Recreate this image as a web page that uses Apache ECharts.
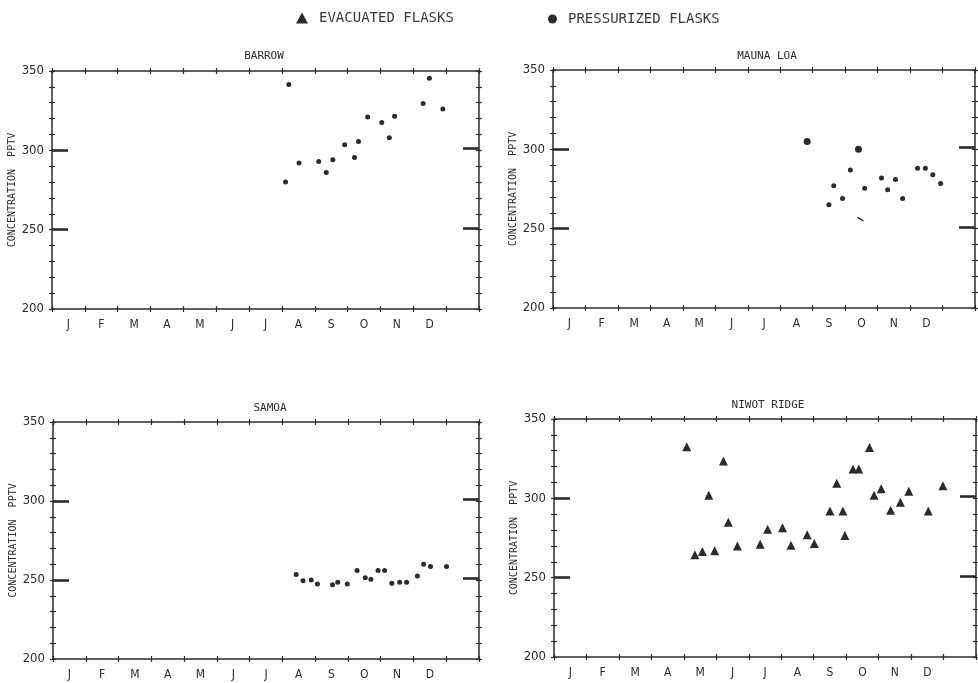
<!DOCTYPE html>
<html>
<head>
<meta charset="utf-8">
<script src="https://cdn.jsdelivr.net/npm/echarts@6/dist/echarts.min.js"></script>
<style>
html, body { margin: 0; background: #fff; }
#view { width: 978px; height: 683px; }
</style>
</head>
<body>
<div id="view"></div>
<script>
var myChart = echarts.init(document.getElementById('view'));

// month axis: 13 slots, the last one is left blank as in the original plot
var monthLabels = ['J', 'F', 'M', 'A', 'M', 'J', 'J', 'A', 'S', 'O', 'N', 'D', ''];
var yLabels = [200, 250, 300, 350];

// x = fraction of the year in months (0 = 1 Jan), y = pptv
var barrowMonth = [7.11, 7.21, 7.52, 8.12, 8.35, 8.55, 8.91, 9.21, 9.33, 9.61, 10.04, 10.27, 10.43, 11.30, 11.49, 11.90];
var barrowPptv  = [280, 341.5, 292, 293, 286, 294, 303.5, 295.5, 305.5, 321, 317.5, 308, 321.5, 329.5, 345.5, 326];

var maunaMonth = [8.50, 8.65, 8.92, 9.16, 9.60, 10.12, 10.31, 10.55, 10.77, 11.23, 11.47, 11.70, 11.94];
var maunaPptv  = [265, 277, 269, 287, 275.5, 282, 274.5, 281, 269, 288, 288, 284, 278.5];
// two larger dots
var maunaBigMonth = [7.83, 9.41];
var maunaBigPptv  = [305, 300];
// small stray dash on the plot
var maunaDashMonth = [9.47];
var maunaDashPptv  = [256];

var samoaMonth = [7.42, 7.63, 7.88, 8.07, 8.53, 8.69, 8.98, 9.28, 9.53, 9.70, 9.92, 10.12, 10.34, 10.58, 10.79, 11.12, 11.31, 11.52, 12.01];
var samoaPptv  = [253.5, 249.5, 250, 247.5, 247, 248.5, 247.5, 256, 251.5, 250.5, 256, 256, 248, 248.5, 248.5, 252.5, 260, 258.5, 258.5];

var niwotMonth = [4.09, 4.34, 4.57, 4.77, 4.95, 5.22, 5.37, 5.65, 6.35, 6.58, 7.04, 7.30, 7.80, 8.02, 8.50, 8.71, 8.90, 8.96, 9.21, 9.39, 9.72, 9.86, 10.08, 10.37, 10.67, 10.93, 11.53, 11.98];
var niwotPptv  = [332.5, 264.5, 266.5, 302, 267, 323.5, 285, 270, 271, 280.5, 281.5, 270.5, 277, 271.5, 292, 309.5, 292, 276.5, 318.5, 318.5, 332, 302, 306, 292.5, 297.5, 304.5, 292, 308];

function pairs(xs, ys) {
    var out = [];
    for (var i = 0; i < xs.length; i++) out.push([xs[i], ys[i]]);
    return out;
}

var ink = '#2b2b2b';
var narrow = '"Liberation Sans Narrow", "DejaVu Sans Condensed", "Liberation Sans", sans-serif';
var mono = '"DejaVu Sans Mono", "Liberation Mono", monospace';

var panels = [
    { title: 'BARROW', box: [52, 71, 427, 238], titleX: 259, titleY: 46 },
    { title: 'MAUNA LOA', box: [553, 70, 422, 238], titleX: 762, titleY: 46 },
    { title: 'SAMOA', box: [53, 422, 426, 237], titleX: 265, titleY: 398 },
    { title: 'NIWOT RIDGE', box: [554, 419, 422, 238], titleX: 763, titleY: 395 }
];

var grids = [], xAxes = [], yAxes = [], titles = [];
var lineStyle = { color: ink, width: 1.5 };
var tickStyle = { color: ink, width: 1.2 };

panels.forEach(function (p, i) {
    grids.push({ left: p.box[0], top: p.box[1], width: p.box[2], height: p.box[3] });
    titles.push({
        text: p.title, left: p.titleX, top: p.titleY, textAlign: 'center',
        textStyle: { fontFamily: mono, fontSize: 11, fontWeight: 'normal', color: ink }
    });

    // 0: data axis, bottom, inner ticks
    xAxes.push({
        gridIndex: i, type: 'value', min: 0, max: 13, interval: 1, position: 'bottom',
        axisLine: { show: true, lineStyle: lineStyle },
        axisTick: { show: true, inside: true, length: 3, lineStyle: tickStyle },
        axisLabel: { show: false }, splitLine: { show: false }
    });
    // 1: month labels, bottom, outer ticks
    xAxes.push({
        gridIndex: i, type: 'category', data: monthLabels, boundaryGap: true, position: 'bottom',
        axisLine: { show: false },
        axisTick: { show: true, inside: false, length: 3, lineStyle: tickStyle },
        axisLabel: { interval: 0, margin: 10, fontFamily: narrow, fontSize: 12, color: ink },
        splitLine: { show: false }
    });
    // 2,3: top frame, ticks both ways
    xAxes.push({
        gridIndex: i, type: 'value', min: 0, max: 13, interval: 1, position: 'top',
        axisLine: { show: true, lineStyle: lineStyle },
        axisTick: { show: true, inside: true, length: 3, lineStyle: tickStyle },
        axisLabel: { show: false }, splitLine: { show: false }
    });
    xAxes.push({
        gridIndex: i, type: 'value', min: 0, max: 13, interval: 1, position: 'top',
        axisLine: { show: false },
        axisTick: { show: true, inside: false, length: 3, lineStyle: tickStyle },
        axisLabel: { show: false }, splitLine: { show: false }
    });

    var yBase = { gridIndex: i, type: 'value', min: 200, max: 350, interval: 10, splitLine: { show: false } };
    yAxes.push(Object.assign({}, yBase, {
        position: 'left',
        name: 'CONCENTRATION  PPTV', nameLocation: 'middle', nameGap: 31, nameRotate: 90,
        nameTextStyle: { fontFamily: mono, fontSize: 10, color: ink },
        axisLine: { show: true, lineStyle: lineStyle },
        axisTick: { show: true, inside: false, length: 3, lineStyle: tickStyle },
        axisLabel: { customValues: yLabels, margin: 8, fontFamily: narrow, fontSize: 13, color: ink }
    }));
    yAxes.push(Object.assign({}, yBase, {
        position: 'left', axisLine: { show: false },
        axisTick: { show: true, inside: true, length: 3, lineStyle: tickStyle },
        axisLabel: { show: false }
    }));
    yAxes.push(Object.assign({}, yBase, {
        position: 'left', axisLine: { show: false },
        axisTick: { show: true, inside: true, length: 16, customValues: [250, 300], lineStyle: { color: ink, width: 2.6 } },
        axisLabel: { show: false }
    }));
    yAxes.push(Object.assign({}, yBase, {
        position: 'right', axisLine: { show: true, lineStyle: lineStyle },
        axisTick: { show: true, inside: true, length: 3, lineStyle: tickStyle },
        axisLabel: { show: false }
    }));
    yAxes.push(Object.assign({}, yBase, {
        position: 'right', axisLine: { show: false },
        axisTick: { show: true, inside: false, length: 3, lineStyle: tickStyle },
        axisLabel: { show: false }
    }));
    yAxes.push(Object.assign({}, yBase, {
        position: 'right', axisLine: { show: false },
        axisTick: { show: true, inside: true, length: 16, customValues: [251, 301], lineStyle: { color: ink, width: 2.6 } },
        axisLabel: { show: false }
    }));
});

function dots(name, panel, data, size, symbol) {
    return {
        name: name, type: 'scatter', xAxisIndex: panel * 4, yAxisIndex: panel * 6,
        symbol: symbol || 'circle', symbolSize: size, data: data,
        itemStyle: { color: ink, opacity: 1 }, silent: true
    };
}

var series = [
    dots('PRESSURIZED FLASKS', 0, pairs(barrowMonth, barrowPptv), 5),
    dots('PRESSURIZED FLASKS', 1, pairs(maunaMonth, maunaPptv), 5),
    dots('PRESSURIZED FLASKS', 1, pairs(maunaBigMonth, maunaBigPptv), 7),
    dots('PRESSURIZED FLASKS', 2, pairs(samoaMonth, samoaPptv), 5),
    dots('EVACUATED FLASKS', 3, pairs(niwotMonth, niwotPptv), 9, 'triangle')
];
var dash = dots('stray', 1, pairs(maunaDashMonth, maunaDashPptv), [7, 1.5], 'rect');
dash.symbolRotate = -30;
series.push(dash);

var legendText = { fontFamily: mono, fontSize: 14, color: '#3a3a3a', padding: [0, 0, 0, 6] };

var option = {
    backgroundColor: '#fff',
    animation: false,
    title: titles,
    legend: [
        { data: [{ name: 'EVACUATED FLASKS', icon: 'triangle' }], left: 291, top: 6, itemWidth: 12, itemHeight: 11, textStyle: legendText, selectedMode: false },
        { data: [{ name: 'PRESSURIZED FLASKS', icon: 'circle' }], left: 543, top: 7, itemWidth: 9, itemHeight: 9, textStyle: legendText, selectedMode: false }
    ],
    grid: grids,
    xAxis: xAxes,
    yAxis: yAxes,
    series: series
};

myChart.setOption(option);
</script>
</body>
</html>
